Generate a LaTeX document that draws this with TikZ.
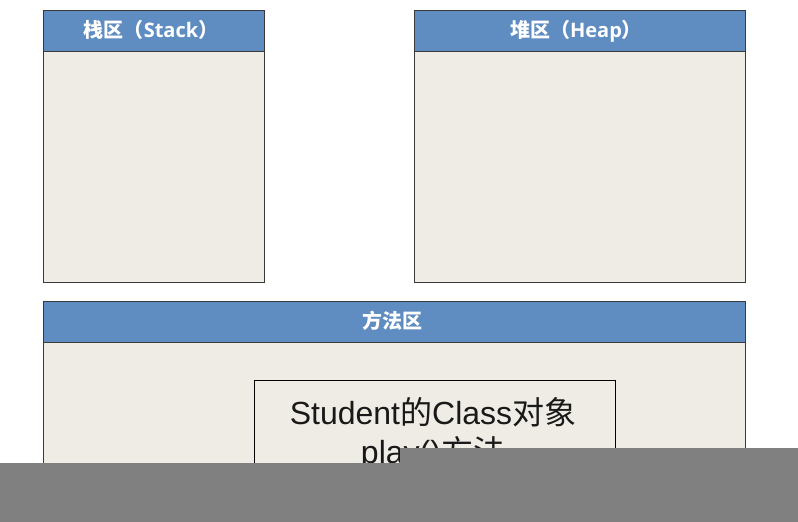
\documentclass[tikz,border=0pt]{standalone}
\usepackage{fontspec}
\setmainfont{Liberation Sans}
\newfontfamily\cjk{Noto Sans CJK SC}
\newfontfamily\hdlat{Open Sans}
\definecolor{hdblue}{HTML}{5F8DC1}
\definecolor{bodyfill}{HTML}{EFECE5}
\definecolor{edge}{HTML}{3A3A3A}
\definecolor{cover}{HTML}{808080}
\begin{document}
\begin{tikzpicture}[x=1pt,y=-1pt,
  areabody/.style={draw=edge,fill=bodyfill,line width=1pt},
  areahead/.style={draw=edge,fill=hdblue,line width=1pt},
  headtext/.style={text=white,font=\bfseries\fontsize{20}{22}\selectfont,inner sep=0pt},
  innerbox/.style={draw=black,fill=bodyfill,line width=1pt},
  innertext/.style={text=black!90,font=\fontsize{32}{38}\selectfont,align=center,inner sep=0pt}]
\useasboundingbox (0,0) rectangle (798,522);
\fill[white] (0,0) rectangle (798,522);
% Stack
\draw[areabody] (43,51) rectangle (264,282);
\draw[areahead] (43,10) rectangle (264,51);
\node[headtext] (stackt) at (151,30) {{\cjk 栈区（}{\hdlat Stack}{\cjk ）}};
% Heap
\draw[areabody] (414,51) rectangle (745,282);
\draw[areahead] (414,10) rectangle (745,51);
\node[headtext] (heapt) at (576,31) {{\cjk 堆区（}{\hdlat Heap}{\cjk ）}};
% Method area
\draw[areabody] (43,342) rectangle (745,540);
\draw[areahead] (43,301) rectangle (745,342);
\node[headtext] (methodt) at (392,320.5) {{\cjk 方法区}};
% Class object box
\draw[innerbox] (254,380) rectangle (615,540);
\node[innertext,anchor=base] (line1) at (433,424) {Student{\cjk 的}Class{\cjk 对象}};
\node[innertext,anchor=base] (line2) at (433,463) {play(){\cjk 方法}};
% Grey cover
\fill[cover] (400,448) -- (798,448) -- (798,522) -- (0,522) -- (0,463) -- (400,463) -- cycle;
\end{tikzpicture}
\end{document}
